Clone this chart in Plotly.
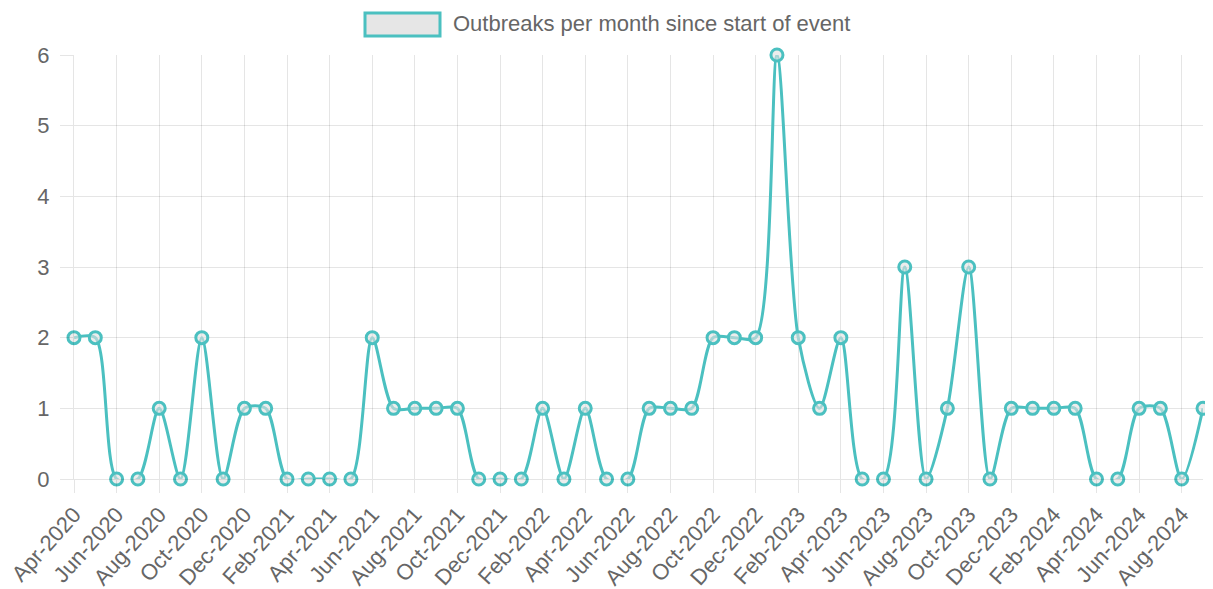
import plotly.graph_objects as go

months = [
    "Apr-2020", "May-2020", "Jun-2020", "Jul-2020", "Aug-2020", "Sep-2020", "Oct-2020", "Nov-2020", "Dec-2020",
    "Jan-2021", "Feb-2021", "Mar-2021", "Apr-2021", "May-2021", "Jun-2021", "Jul-2021", "Aug-2021", "Sep-2021",
    "Oct-2021", "Nov-2021", "Dec-2021",
    "Jan-2022", "Feb-2022", "Mar-2022", "Apr-2022", "May-2022", "Jun-2022", "Jul-2022", "Aug-2022", "Sep-2022",
    "Oct-2022", "Nov-2022", "Dec-2022",
    "Jan-2023", "Feb-2023", "Mar-2023", "Apr-2023", "May-2023", "Jun-2023", "Jul-2023", "Aug-2023", "Sep-2023",
    "Oct-2023", "Nov-2023", "Dec-2023",
    "Jan-2024", "Feb-2024", "Mar-2024", "Apr-2024", "May-2024", "Jun-2024", "Jul-2024", "Aug-2024", "Sep-2024",
]
outbreaks = [
    2, 2, 0, 0, 1, 0, 2, 0, 1,
    1, 0, 0, 0, 0, 2, 1, 1, 1,
    1, 0, 0,
    0, 1, 0, 1, 0, 0, 1, 1, 1,
    2, 2, 2,
    6, 2, 1, 2, 0, 0, 3, 0, 1,
    3, 0, 1,
    1, 1, 1, 0, 0, 1, 1, 0, 1,
]
series_name = "Outbreaks per month since start of event"
tick_labels = months[::2]
y_ticks = [0, 1, 2, 3, 4, 5, 6]

teal = "rgb(75,192,192)"
grid = "rgba(0,0,0,0.1)"
font_family = "Liberation Sans, Arial, Helvetica, sans-serif"
fsize = 22

fig = go.Figure()
fig.add_trace(go.Scatter(
    x=months, y=outbreaks, mode="lines+markers", name=series_name,
    line=dict(color=teal, width=3, shape="spline", smoothing=0.8),
    marker=dict(symbol="circle", size=12, color="rgba(225,225,225,0.6)",
                line=dict(color=teal, width=3)),
    cliponaxis=False, showlegend=False,
))

# custom Chart.js style legend (plot area spans 74..1203 px horizontally, 55..479 px vertically on the page)
fig.add_shape(type="rect", xref="paper", yref="paper",
              x0=(365 - 74) / 1129, x1=(440 - 74) / 1129,
              y0=(479 - 36) / 424, y1=(479 - 13) / 424,
              fillcolor="rgba(230,230,230,1)", line=dict(color=teal, width=3))
fig.add_annotation(xref="paper", yref="paper",
                   x=(451 - 74) / 1129, y=(479 - 24) / 424,
                   text=series_name, showarrow=False, xanchor="left", yanchor="middle",
                   font=dict(size=fsize, color="#666", family=font_family))

# the page body has an 8px margin, so the figure is offset by 8px
fig.update_layout(
    width=1205, height=581,
    margin=dict(l=66, r=10, t=47, b=110),
    paper_bgcolor="white", plot_bgcolor="white",
    font=dict(family=font_family, size=fsize, color="#666"),
    showlegend=False,
)
fig.update_xaxes(
    type="category", categoryorder="array", categoryarray=months,
    range=[0, len(months) - 1], automargin=False,
    tickmode="array", tickvals=tick_labels, ticktext=tick_labels,
    tickangle=-48, showgrid=True, gridcolor=grid, gridwidth=1,
    ticks="outside", ticklen=13, tickcolor=grid,
    showline=True, linecolor=grid, zeroline=False,
    tickfont=dict(size=fsize, color="#666"),
)
fig.update_yaxes(
    range=[0, 6], tickmode="array", tickvals=y_ticks, automargin=False,
    showgrid=True, gridcolor=grid, gridwidth=1,
    ticks="outside", ticklen=13, tickcolor=grid,
    showline=True, linecolor=grid, zeroline=False,
    tickfont=dict(size=fsize, color="#666"), ticklabelstandoff=6,
)

fig.write_html("out.html")
